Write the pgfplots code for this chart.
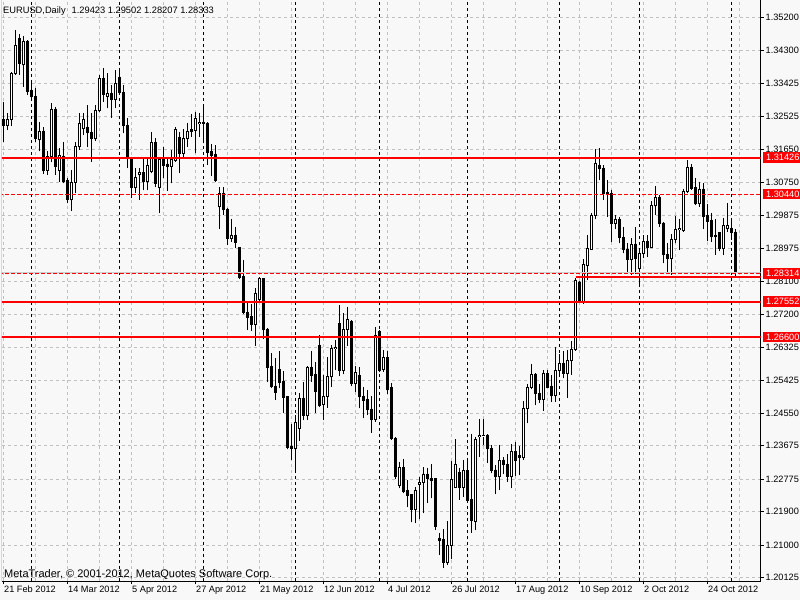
\documentclass[border=0pt]{standalone}
\usepackage{pgfplots}
\pgfplotsset{compat=1.18}
\usepackage{pgfplotstable}
\usepackage{fontspec}
\setmainfont{Liberation Sans}
\definecolor{bg}{RGB}{248,248,248}
\definecolor{gridc}{RGB}{192,192,192}
\definecolor{mtred}{RGB}{255,0,0}
\definecolor{bidc}{RGB}{205,205,205}
\pgfplotstableread{
i o h l c
0 1.3244 1.3293 1.3185 1.3228
1 1.3229 1.3262 1.3217 1.3246
2 1.3246 1.3374 1.3228 1.3369
3 1.3369 1.3486 1.3365 1.3445
4 1.3462 1.3475 1.3365 1.3396
5 1.3392 1.3470 1.3333 1.3456
6 1.3456 1.3459 1.3311 1.3320
7 1.3322 1.3347 1.3298 1.3307
8 1.3308 1.3329 1.3185 1.3194
9 1.3190 1.3237 1.3159 1.3214
10 1.3214 1.3226 1.3098 1.3107
11 1.3109 1.3159 1.3096 1.3145
12 1.3145 1.3289 1.3132 1.3273
13 1.3273 1.3278 1.3096 1.3118
14 1.3109 1.3168 1.3078 1.3147
15 1.3145 1.3185 1.3073 1.3078
16 1.3080 1.3087 1.3020 1.3029
17 1.3029 1.3109 1.3000 1.3076
18 1.3076 1.3185 1.3046 1.3172
19 1.3172 1.3262 1.3163 1.3235
20 1.3220 1.3263 1.3203 1.3246
21 1.3223 1.3284 1.3172 1.3211
22 1.3211 1.3262 1.3132 1.3194
23 1.3193 1.3284 1.3188 1.3268
24 1.3268 1.3365 1.3266 1.3356
25 1.3356 1.3383 1.3293 1.3311
26 1.3308 1.3369 1.3275 1.3314
27 1.3314 1.3338 1.3250 1.3298
28 1.3298 1.3378 1.3275 1.3341
29 1.3359 1.3383 1.3311 1.3318
30 1.3318 1.3338 1.3208 1.3228
31 1.3230 1.3248 1.3114 1.3145
32 1.3141 1.3145 1.3033 1.3062
33 1.3062 1.3114 1.3046 1.3090
34 1.3096 1.3114 1.3029 1.3103
35 1.3103 1.3141 1.3055 1.3078
36 1.3078 1.3145 1.3055 1.3120
37 1.3105 1.3211 1.3100 1.3184
38 1.3184 1.3194 1.3063 1.3073
39 1.3062 1.3141 1.2993 1.3138
40 1.3138 1.3172 1.3087 1.3121
41 1.3125 1.3138 1.3054 1.3118
42 1.3118 1.3163 1.3073 1.3138
43 1.3136 1.3224 1.3132 1.3217
44 1.3197 1.3212 1.3102 1.3154
45 1.3154 1.3219 1.3145 1.3194
46 1.3194 1.3235 1.3172 1.3214
47 1.3217 1.3260 1.3199 1.3212
48 1.3215 1.3266 1.3154 1.3248
49 1.3233 1.3263 1.3199 1.3237
50 1.3237 1.3287 1.3181 1.3233
51 1.3235 1.3237 1.3123 1.3156
52 1.3159 1.3178 1.3093 1.3147
53 1.3150 1.3176 1.3078 1.3080
54 1.3011 1.3063 1.2951 1.3046
55 1.3046 1.3063 1.2988 1.3003
56 1.3003 1.3006 1.2907 1.2925
57 1.2925 1.2977 1.2916 1.2934
58 1.2934 1.2957 1.2899 1.2914
59 1.2900 1.2903 1.2816 1.2820
60 1.2822 1.2867 1.2721 1.2725
61 1.2727 1.2755 1.2679 1.2712
62 1.2714 1.2749 1.2677 1.2694
63 1.2694 1.2791 1.2637 1.2776
64 1.2761 1.2821 1.2755 1.2816
65 1.2816 1.2818 1.2654 1.2681
66 1.2681 1.2683 1.2540 1.2577
67 1.2580 1.2616 1.2524 1.2526
68 1.2528 1.2603 1.2491 1.2510
69 1.2573 1.2623 1.2522 1.2537
70 1.2540 1.2569 1.2456 1.2497
71 1.2499 1.2501 1.2358 1.2362
72 1.2365 1.2426 1.2329 1.2360
73 1.2360 1.2450 1.2302 1.2430
74 1.2414 1.2508 1.2381 1.2495
75 1.2495 1.2540 1.2437 1.2448
76 1.2448 1.2582 1.2437 1.2578
77 1.2578 1.2622 1.2540 1.2556
78 1.2558 1.2594 1.2456 1.2513
79 1.2638 1.2665 1.2473 1.2477
80 1.2479 1.2558 1.2437 1.2500
81 1.2500 1.2607 1.2470 1.2553
82 1.2553 1.2638 1.2526 1.2630
83 1.2629 1.2652 1.2571 1.2632
84 1.2695 1.2746 1.2555 1.2571
85 1.2571 1.2724 1.2560 1.2681
86 1.2681 1.2740 1.2636 1.2706
87 1.2703 1.2706 1.2528 1.2534
88 1.2535 1.2582 1.2513 1.2565
89 1.2556 1.2578 1.2468 1.2500
90 1.2501 1.2526 1.2441 1.2489
91 1.2491 1.2517 1.2450 1.2465
92 1.2466 1.2501 1.2403 1.2437
93 1.2437 1.2688 1.2432 1.2663
94 1.2676 1.2679 1.2565 1.2571
95 1.2573 1.2625 1.2567 1.2605
96 1.2604 1.2621 1.2507 1.2520
97 1.2524 1.2535 1.2383 1.2387
98 1.2387 1.2390 1.2277 1.2284
99 1.2260 1.2325 1.2253 1.2309
100 1.2309 1.2332 1.2239 1.2244
101 1.2246 1.2275 1.2204 1.2233
102 1.2235 1.2238 1.2161 1.2197
103 1.2197 1.2256 1.2159 1.2246
104 1.2264 1.2284 1.2170 1.2269
105 1.2269 1.2311 1.2186 1.2291
106 1.2291 1.2307 1.2213 1.2278
107 1.2280 1.2318 1.2226 1.2275
108 1.2278 1.2280 1.2141 1.2150
109 1.2117 1.2134 1.2074 1.2112
110 1.2114 1.2143 1.2038 1.2053
111 1.2053 1.2165 1.2047 1.2100
112 1.2100 1.2326 1.2062 1.2277
113 1.2255 1.2386 1.2253 1.2318
114 1.2295 1.2307 1.2222 1.2255
115 1.2255 1.2329 1.2230 1.2300
116 1.2300 1.2334 1.2217 1.2219
117 1.2222 1.2399 1.2134 1.2166
118 1.2165 1.2390 1.2140 1.2383
119 1.2392 1.2439 1.2338 1.2396
120 1.2395 1.2439 1.2369 1.2396
121 1.2396 1.2399 1.2322 1.2361
122 1.2361 1.2369 1.2293 1.2300
123 1.2302 1.2316 1.2237 1.2284
124 1.2284 1.2369 1.2248 1.2329
125 1.2329 1.2338 1.2291 1.2316
126 1.2318 1.2345 1.2271 1.2284
127 1.2284 1.2372 1.2253 1.2352
128 1.2352 1.2378 1.2286 1.2327
129 1.2341 1.2367 1.2289 1.2335
130 1.2335 1.2488 1.2330 1.2468
131 1.2468 1.2533 1.2428 1.2525
132 1.2525 1.2587 1.2519 1.2560
133 1.2560 1.2562 1.2477 1.2508
134 1.2508 1.2534 1.2483 1.2493
135 1.2493 1.2571 1.2462 1.2562
136 1.2562 1.2571 1.2522 1.2524
137 1.2528 1.2558 1.2486 1.2502
138 1.2502 1.2632 1.2486 1.2571
139 1.2571 1.2614 1.2553 1.2589
140 1.2589 1.2623 1.2549 1.2562
141 1.2562 1.2625 1.2497 1.2598
142 1.2596 1.2650 1.2558 1.2627
143 1.2627 1.2818 1.2623 1.2813
144 1.2807 1.2810 1.2753 1.2755
145 1.2755 1.2870 1.2749 1.2854
146 1.2852 1.2934 1.2813 1.2897
147 1.2896 1.2994 1.2894 1.2988
148 1.2988 1.3165 1.2977 1.3127
149 1.3120 1.3168 1.3082 1.3114
150 1.3114 1.3123 1.3029 1.3046
151 1.3048 1.3082 1.2984 1.3045
152 1.3046 1.3055 1.2916 1.2966
153 1.2966 1.2988 1.2950 1.2977
154 1.2975 1.2984 1.2912 1.2927
155 1.2927 1.2955 1.2885 1.2896
156 1.2896 1.2914 1.2831 1.2869
157 1.2869 1.2925 1.2827 1.2909
158 1.2909 1.2955 1.2829 1.2872
159 1.2845 1.2894 1.2795 1.2885
160 1.2885 1.2934 1.2872 1.2916
161 1.2918 1.2934 1.2876 1.2901
162 1.2901 1.3027 1.2899 1.3015
163 1.3013 1.3067 1.2988 1.3036
164 1.3036 1.3042 1.2957 1.2966
165 1.2966 1.2970 1.2858 1.2882
166 1.2882 1.2912 1.2831 1.2872
167 1.2872 1.2936 1.2827 1.2923
168 1.2923 1.2986 1.2912 1.2948
169 1.2948 1.2977 1.2894 1.2951
170 1.2946 1.3058 1.2943 1.3051
171 1.3051 1.3136 1.3046 1.3116
172 1.3116 1.3124 1.3055 1.3060
173 1.3062 1.3089 1.3015 1.3018
174 1.3018 1.3078 1.3011 1.3057
175 1.3057 1.3073 1.2950 1.2984
176 1.2986 1.3017 1.2918 1.2970
177 1.2972 1.2993 1.2916 1.2930
178 1.2934 1.2977 1.2881 1.2930
179 1.2941 1.2943 1.2890 1.2897
180 1.2897 1.2979 1.2881 1.2961
181 1.2951 1.3020 1.2943 1.2961
182 1.2952 1.2979 1.2921 1.2942
183 1.29423 1.29502 1.28207 1.28333
}\candles
\pgfplotsset{
  candle/.style={only marks, mark=*, mark size=0pt, mark options={draw=none, fill=none}, forget plot},
}
\begin{document}
\begin{tikzpicture}[x=1pt,y=1pt]
\fill[bg] (0,0) rectangle (800,600);
\useasboundingbox (0,0) rectangle (800,600);
\begin{axis}[
  at={(2pt,19pt)}, anchor=south west,
  scale only axis, width=758.5pt, height=581pt,
  xmin=-0.375, xmax=189.25, ymin=1.20036, ymax=1.35665,
  axis x line*=bottom, axis y line*=right,
  axis line style={black, line width=1pt, -},
  tick align=outside, major tick length=3pt,
  tick style={black, line width=1pt},
  every tick label/.append style={font=\fontsize{9.2}{10}\selectfont, text=black},
  ytick={1.35200,1.34300,1.33425,1.32525,1.31650,1.30750,1.29875,1.28975,1.28100,1.27200,1.26325,1.25425,1.24550,1.23675,1.22775,1.21900,1.21000,1.20125},
  yticklabels={1.35200,1.34300,1.33425,1.32525,1.31650,1.30750,1.29875,1.28975,1.28100,1.27200,1.26325,1.25425,1.24550,1.23675,1.22775,1.21900,1.21000,1.20125},
  yticklabel style={anchor=west, inner sep=0pt, xshift=2pt},
  xtick={0,16,...,176},
  xticklabels={21 Feb 2012,14 Mar 2012,5 Apr 2012,27 Apr 2012,21 May 2012,12 Jun 2012,4 Jul 2012,26 Jul 2012,17 Aug 2012,10 Sep 2012,2 Oct 2012,24 Oct 2012},
  xticklabel style={anchor=north west, inner sep=0pt, xshift=0.5pt, yshift=-2pt},
  minor xtick={8,24,...,184},
  minor tick length=0pt,
  grid=both,
  major grid style={gridc, line width=1pt, dash pattern=on 3pt off 3pt},
  minor grid style={gridc, line width=1pt, dash pattern=on 3pt off 3pt},
  extra x ticks={7,29,50,73,94,116,139,159,182},
  extra x tick labels={},
  extra x tick style={major tick length=0pt, grid=major, major grid style={black, line width=1pt, dash pattern=on 3pt off 3pt}},
  extra y ticks={1.31426,1.30440,1.28314,1.27552,1.26600},
  extra y tick labels={1.31426,1.30440,1.28314,1.27552,1.26600},
  extra y tick style={major tick length=0pt, grid=none,
    yticklabel style={fill=mtred, text=white, anchor=west, inner xsep=3.5pt, inner ysep=0pt, minimum height=10.5pt, text width=34pt, align=left, xshift=0pt}},
]
% wicks
\addplot[candle,
  error bars/.cd, y dir=plus, y explicit, error mark=none,
  error bar style={draw=black, line width=1pt}]
  table[x=i, y=l, y error plus expr=\thisrow{h}-\thisrow{l}] {\candles};
% bearish bodies
\addplot[candle,
  restrict expr to domain={\thisrow{c}-\thisrow{o}}{-1:0},
  error bars/.cd, y dir=minus, y explicit, error mark=none,
  error bar style={draw=black, line width=3pt, shorten <=-0.5pt, shorten >=-0.5pt}]
  table[x=i, y=o, y error minus expr=\thisrow{o}-\thisrow{c}] {\candles};
% bullish bodies: outline
\addplot[candle,
  restrict expr to domain={\thisrow{c}-\thisrow{o}}{0.00001:1},
  error bars/.cd, y dir=plus, y explicit, error mark=none,
  error bar style={draw=black, line width=3pt, shorten <=-0.5pt, shorten >=-0.5pt}]
  table[x=i, y=o, y error plus expr=\thisrow{c}-\thisrow{o}] {\candles};
% bullish bodies: white interior
\addplot[candle,
  restrict expr to domain={\thisrow{c}-\thisrow{o}}{0.00001:1},
  error bars/.cd, y dir=plus, y explicit, error mark=none,
  error bar style={draw=white, line width=1pt, shorten <=0.5pt, shorten >=0.5pt}]
  table[x=i, y=o, y error plus expr=\thisrow{c}-\thisrow{o}] {\candles};
% horizontal levels
\addplot[bidc, line width=1pt, forget plot] coordinates {(-1,1.28345) (190,1.28345)};
\addplot[mtred, line width=2pt, forget plot] coordinates {(-1,1.31426) (190,1.31426)};
\addplot[mtred, line width=2pt, forget plot] coordinates {(-1,1.27552) (190,1.27552)};
\addplot[mtred, line width=2pt, forget plot] coordinates {(-1,1.26600) (190,1.26600)};
\addplot[mtred, line width=1pt, dash pattern=on 4pt off 2pt, forget plot] coordinates {(-1,1.30440) (190,1.30440)};
\addplot[mtred, line width=1pt, dash pattern=on 4pt off 2pt, forget plot] coordinates {(-1,1.28314) (190,1.28314)};
\addplot[mtred, line width=2pt, forget plot] coordinates {(143,1.2822) (190,1.2822)};
% frame left line
\draw[black, line width=1pt] (rel axis cs:0,0) -- (rel axis cs:0,1);
% texts
\node[anchor=base west, inner sep=0pt, font=\fontsize{9.3}{10}\selectfont] at (rel axis cs:0.0013,0.9768) {EURUSD,Daily\hspace{6pt}1.29423 1.29502 1.28207 1.28333};
\node[anchor=base west, inner sep=0pt, font=\fontsize{11}{12}\selectfont] at (rel axis cs:0.0026,0.0052) {MetaTrader, © 2001-2012, MetaQuotes Software Corp.};
\end{axis}
\end{tikzpicture}
\end{document}
